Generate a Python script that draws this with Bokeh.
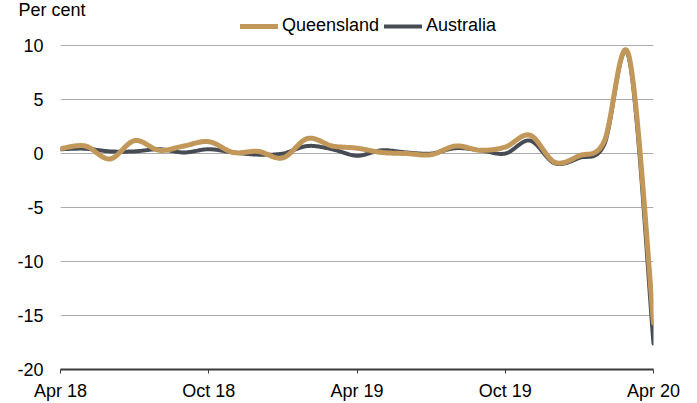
import numpy as np
from bokeh.plotting import figure
from bokeh.layouts import column
from bokeh.models import FixedTicker, Legend, LegendItem, Range1d
from bokeh.embed import file_html
from bokeh.resources import INLINE

# ---- data (monthly, Apr 2018 .. Apr 2020), per cent ----
months = list(range(25))
queensland = [0.45, 0.7, -0.5, 1.2, 0.3, 0.7, 1.1, 0.1, 0.2, -0.4, 1.4, 0.7, 0.5,
              0.1, 0.0, -0.1, 0.7, 0.3, 0.6, 1.7, -0.8, -0.2, 1.1, 9.1, -15.7]
australia = [0.4, 0.45, 0.2, 0.2, 0.4, 0.1, 0.4, 0.1, -0.1, 0.0, 0.7, 0.4, -0.2,
             0.3, 0.1, 0.0, 0.5, 0.3, 0.0, 1.2, -0.9, -0.4, 0.8, 8.9, -17.6]
series_names = ["Queensland", "Australia"]
tick_months = [0, 6, 12, 18, 24]
tick_labels = ["Apr 18", "Oct 18", "Apr 19", "Oct 19", "Apr 20"]
y_ticks = [-20, -15, -10, -5, 0, 5, 10]
y_labels = ["-20", "-15", "-10", "-5", "0", "5", "10"]

QLD_COL = "#C1975A"
AUS_COL = "#464B54"
FONT = "Liberation Sans"
FS = "18px"
W = 697
TOP_H = 37


def smooth(xs, ys, n=24):
    """Excel-style smoothed line (Catmull-Rom Bezier) through the data points."""
    P = np.column_stack([xs, ys]).astype(float)
    m = len(P)
    out = [P[0]]
    t = np.linspace(0, 1, n + 1)[1:][:, None]
    for i in range(m - 1):
        p0 = P[i - 1] if i > 0 else P[i]
        p1, p2 = P[i], P[i + 1]
        p3 = P[i + 2] if i + 2 < m else P[i + 1]
        c1 = p1 + (p2 - p0) / 6.0
        c2 = p2 - (p3 - p1) / 6.0
        seg = ((1 - t) ** 3) * p1 + 3 * ((1 - t) ** 2) * t * c1 + 3 * (1 - t) * t ** 2 * c2 + t ** 3 * p2
        out.extend(seg)
    out = np.array(out)
    return out[:, 0], out[:, 1]


# ---------- header strip: unit label (title) + legend ----------
top = figure(width=W, height=TOP_H, output_backend="svg", toolbar_location=None,
             x_range=Range1d(0, 1), y_range=Range1d(0, 1),
             x_axis_type=None, y_axis_type=None,
             min_border_left=0, min_border_right=0, min_border_top=0, min_border_bottom=0)
top.outline_line_color = None
top.xgrid.grid_line_color = None
top.ygrid.grid_line_color = None
top.background_fill_color = "white"
top.border_fill_color = "white"
top.title.text = "Per cent"
top.title.align = "left"
top.title.offset = -42
try:
    top.title.standoff = -6
except Exception:
    top.title.standoff = 0
top.title.text_font = FONT
top.title.text_font_size = FS
top.title.text_font_style = "normal"
top.title.text_color = "#000000"

# legend proxies (single point -> no visible line, only legend glyph)
lq = top.line([months[0]], [queensland[0]], line_color=QLD_COL, line_width=5, line_cap="round")
la = top.line([months[0]], [australia[0]], line_color=AUS_COL, line_width=4, line_cap="round")
legend = Legend(items=[LegendItem(label=series_names[0], renderers=[lq]),
                       LegendItem(label=series_names[1], renderers=[la])],
                location=(180, 1), orientation="horizontal",
                padding=0, margin=0, spacing=5, label_standoff=4,
                glyph_width=38, glyph_height=16, label_height=16,
                border_line_color=None, background_fill_alpha=0,
                label_text_font=FONT, label_text_font_size=FS, label_text_color="#000000")
top.add_layout(legend)

# ---------- main chart ----------
p = figure(width=W, height=403 - TOP_H, output_backend="svg", toolbar_location=None,
           x_range=Range1d(0, 24), y_range=Range1d(-20, 10.1),
           min_border_left=60, min_border_right=44, min_border_top=7, min_border_bottom=34)
p.outline_line_color = None
p.background_fill_color = "white"
p.border_fill_color = "white"

ax, ay = smooth(months, australia)
qx, qy = smooth(months, queensland)
p.line(ax, ay, line_color=AUS_COL, line_width=4, line_join="round", line_cap="round")
p.line(qx, qy, line_color=QLD_COL, line_width=5, line_join="round", line_cap="round")

p.xaxis.ticker = FixedTicker(ticks=tick_months)
p.xaxis.major_label_overrides = {m: l for m, l in zip(tick_months, tick_labels)}
p.xaxis.axis_line_color = "#3a3a3a"
p.xaxis.axis_line_width = 2
p.xaxis.major_tick_line_color = "#3a3a3a"
p.xaxis.major_tick_in = 0
p.xaxis.major_tick_out = 4
p.xaxis.minor_tick_line_color = None
p.xaxis.major_label_standoff = 7
p.xaxis.major_label_text_font = FONT
p.xaxis.major_label_text_font_size = FS
p.xaxis.major_label_text_color = "#000000"

p.yaxis.ticker = FixedTicker(ticks=y_ticks)
p.yaxis.major_label_overrides = {v: l for v, l in zip(y_ticks, y_labels)}
p.yaxis.axis_line_color = None
p.yaxis.major_tick_line_color = None
p.yaxis.minor_tick_line_color = None
p.yaxis.major_tick_in = 0
p.yaxis.major_tick_out = 0
p.yaxis.major_label_standoff = 17
p.yaxis.major_label_text_font = FONT
p.yaxis.major_label_text_font_size = FS
p.yaxis.major_label_text_color = "#000000"

p.xgrid.grid_line_color = None
p.ygrid.grid_line_color = "#ABABAB"
p.ygrid.grid_line_width = 1
p.ygrid.ticker = FixedTicker(ticks=y_ticks)

layout = column(top, p, spacing=0)
open("out.html", "w").write(file_html(layout, INLINE))
